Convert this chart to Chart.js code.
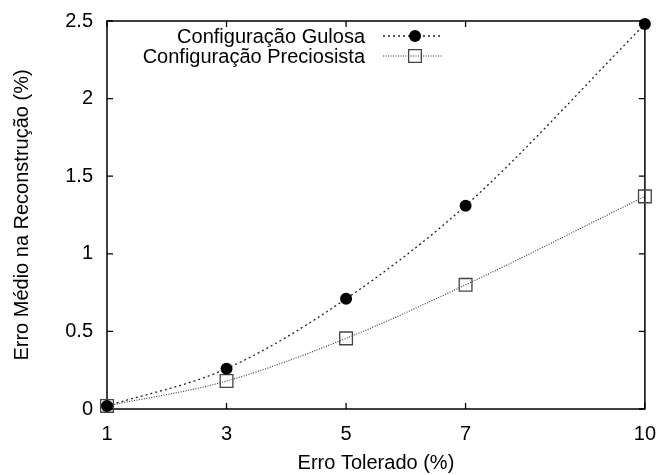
<!DOCTYPE html>
<html>
<head>
<meta charset="utf-8">
<script src="https://cdn.jsdelivr.net/npm/chart.js@4/dist/chart.umd.min.js"></script>
<style>
html,body{margin:0;padding:0;background:#fff;}
#wrap{width:661px;height:475px;}
</style>
</head>
<body>
<div id="wrap"><canvas id="c" width="661" height="475"></canvas></div>
<script>
// ---- data ----
const xValues = [1, 3, 5, 7, 10];
const gulosa = [0.02, 0.26, 0.71, 1.31, 2.48];
const preciosista = [0.02, 0.18, 0.455, 0.80, 1.37];
const seriesNames = ['Configuração Gulosa', 'Configuração Preciosista'];
const xTickValues = [1, 3, 5, 7, 10];
const yTickValues = [0, 0.5, 1, 1.5, 2, 2.5];
const xTitle = 'Erro Tolerado (%)';
const yTitle = 'Erro Médio na Reconstrução (%)';

const FONT = "'Liberation Sans', Arial, Helvetica, sans-serif";
const FS = 20;

const framePlugin = {
  id: 'frame',
  beforeDatasetsDraw(chart) {
    const {ctx, chartArea: a, scales} = chart;
    ctx.save();
    ctx.strokeStyle = '#000';
    ctx.lineWidth = 1.5;
    ctx.strokeRect(a.left, a.top, a.right - a.left, a.bottom - a.top);
    ctx.lineWidth = 1.3;
    const tl = 6;
    ctx.beginPath();
    scales.x.ticks.forEach(t => {
      const px = scales.x.getPixelForValue(t.value);
      ctx.moveTo(px, a.bottom); ctx.lineTo(px, a.bottom - tl);
      ctx.moveTo(px, a.top); ctx.lineTo(px, a.top + tl);
    });
    scales.y.ticks.forEach(t => {
      const py = scales.y.getPixelForValue(t.value);
      ctx.moveTo(a.left, py); ctx.lineTo(a.left + tl, py);
      ctx.moveTo(a.right, py); ctx.lineTo(a.right - tl, py);
    });
    ctx.stroke();
    ctx.restore();
  }
};

const legendPlugin = {
  id: 'inlegend',
  afterDatasetsDraw(chart) {
    const {ctx} = chart;
    ctx.save();
    ctx.font = FS + 'px ' + FONT;
    ctx.textAlign = 'right';
    ctx.textBaseline = 'middle';
    chart.data.datasets.forEach((ds, i) => {
      const y = 36 + i * 20;
      ctx.fillStyle = '#000';
      ctx.fillText(ds.label, 365, y + 1);
      ctx.strokeStyle = ds.borderColor;
      ctx.lineWidth = ds.borderWidth;
      ctx.setLineDash(ds.borderDash);
      ctx.beginPath();
      ctx.moveTo(383, y); ctx.lineTo(442, y);
      ctx.stroke();
      ctx.setLineDash([]);
      ctx.fillStyle = ds.pointBackgroundColor;
      ctx.strokeStyle = ds.pointBorderColor;
      ctx.lineWidth = 1.3;
      ctx.beginPath();
      if (ds.pointStyle === 'circle') {
        ctx.arc(415, y, ds.pointRadius, 0, Math.PI * 2);
        ctx.fill();
      } else {
        const s = ds.pointRadius * Math.SQRT1_2;
        ctx.rect(415 - s, y - s, 2 * s, 2 * s);
        ctx.stroke();
      }
    });
    ctx.restore();
  }
};

new Chart(document.getElementById('c'), {
  type: 'line',
  data: {
    datasets: [
      {
        label: seriesNames[0],
        data: xValues.map((x, i) => ({x: x, y: gulosa[i]})),
        borderColor: '#222',
        borderWidth: 1.3,
        borderDash: [2, 3],
        cubicInterpolationMode: 'monotone',
        pointStyle: 'circle',
        pointRadius: 6,
        pointBackgroundColor: '#000',
        pointBorderColor: '#000',
        pointBorderWidth: 0,
        clip: false
      },
      {
        label: seriesNames[1],
        data: xValues.map((x, i) => ({x: x, y: preciosista[i]})),
        borderColor: '#333',
        borderWidth: 1.1,
        borderDash: [1, 1.5],
        cubicInterpolationMode: 'monotone',
        pointStyle: 'rect',
        pointRadius: 9,
        pointBackgroundColor: 'rgba(0,0,0,0)',
        pointBorderColor: '#444',
        pointBorderWidth: 1.3,
        clip: false
      }
    ]
  },
  options: {
    responsive: false,
    animation: false,
    events: [],
    layout: {padding: {top: 21, right: 14, left: 0, bottom: 0}},
    plugins: {legend: {display: false}, tooltip: {enabled: false}},
    scales: {
      x: {
        type: 'linear',
        min: 1, max: 10,
        afterBuildTicks: (s) => { s.ticks = xTickValues.map(v => ({value: v})); },
        afterFit: (s) => { s.height = 66; },
        grid: {display: false},
        border: {display: false},
        ticks: {
          color: '#000', padding: 5, maxRotation: 0, autoSkip: false,
          font: {family: FONT, size: FS},
          callback: (v) => String(v)
        },
        title: {
          display: true, text: xTitle, color: '#000',
          font: {family: FONT, size: FS},
          padding: {top: 0, bottom: 0}
        }
      },
      y: {
        min: 0, max: 2.5,
        afterBuildTicks: (s) => { s.ticks = yTickValues.map(v => ({value: v})); },
        afterFit: (s) => { s.width = 107; },
        grid: {display: false},
        border: {display: false},
        ticks: {
          color: '#000', padding: 6, autoSkip: false,
          font: {family: FONT, size: FS},
          callback: (v) => String(v)
        },
        title: {
          display: true, text: yTitle, color: '#000',
          font: {family: FONT, size: FS},
          padding: {top: 10, bottom: 0}
        }
      }
    }
  },
  plugins: [framePlugin, legendPlugin]
});
</script>
</body>
</html>
